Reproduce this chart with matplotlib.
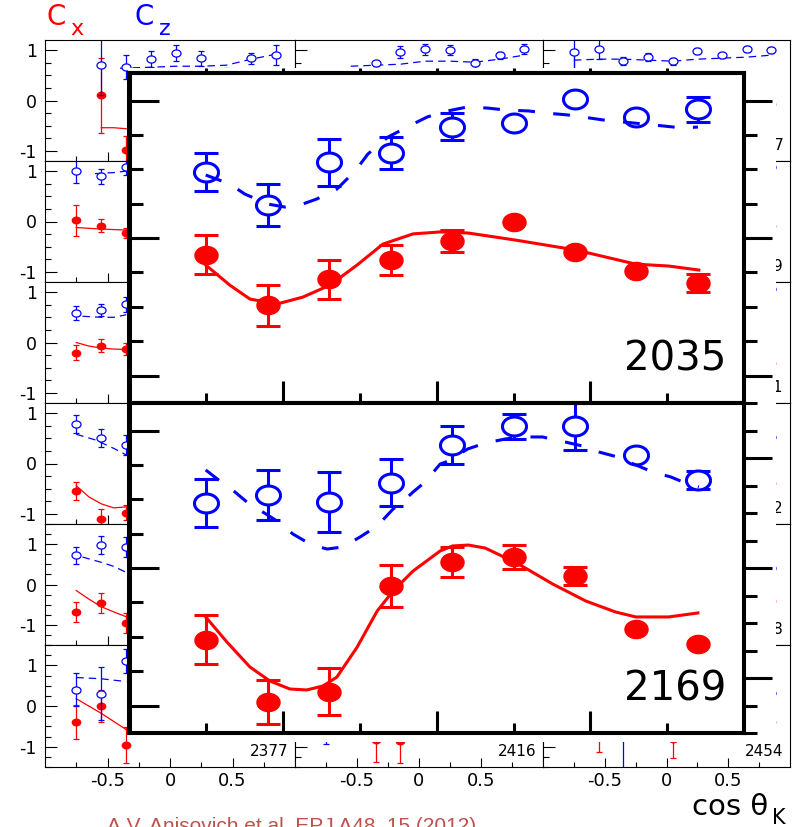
import numpy as np
import matplotlib.pyplot as plt
from matplotlib.path import Path
from matplotlib.patches import Rectangle
from matplotlib.ticker import FixedLocator, MultipleLocator

plt.rcParams['axes.unicode_minus'] = False

# cos(theta_K) bins of the data points
cos_pts = [-0.75, -0.55, -0.35, -0.15, 0.05, 0.25, 0.45, 0.65, 0.85]

# enlarged panel W = 2035
cx_2035 = [-0.12, -0.49, -0.30, -0.16, -0.02, 0.12, -0.10, -0.24, -0.33]
cx_2035_err = [0.145, 0.15, 0.14, 0.11, 0.08, 0, 0, 0, 0.065]
cz_2035 = [0.48, 0.24, 0.55, 0.62, 0.81, 0.84, 1.01, 0.88, 0.935]
cz_2035_err = [0.135, 0.15, 0.17, 0.115, 0.10, 0, 0, 0, 0.09]

fitx_cx_2035 = [-0.752, -0.674, -0.608, -0.52, -0.436, -0.347, -0.259, -0.175, -0.077, 0.011,
                0.103, 0.256, 0.452, 0.648, 0.755, 0.853]
fit_cx_2035 = [-0.196, -0.342, -0.444, -0.48, -0.43, -0.342, -0.196, -0.044, 0.03, 0.044,
               0.036, -0.015, -0.087, -0.19, -0.204, -0.233]
fitx_cz_2035 = [-0.752, -0.674, -0.625, -0.55, -0.494, -0.445, -0.39, -0.325, -0.292, -0.256,
                -0.224, -0.158, -0.077, -0.031, 0.018, 0.1, 0.165, 0.223, 0.299, 0.354,
                0.426, 0.475, 0.543, 0.605, 0.674, 0.736, 0.801, 0.85]
fit_cz_2035 = [0.458, 0.393, 0.32, 0.247, 0.225, 0.24, 0.284, 0.356, 0.429, 0.516,
               0.611, 0.735, 0.829, 0.88, 0.916, 0.953, 0.945, 0.931, 0.924, 0.909,
               0.895, 0.88, 0.858, 0.844, 0.829, 0.815, 0.8, 0.807]

# enlarged panel W = 2169
cx_2169 = [-0.52, -0.975, -0.90, -0.13, 0.045, 0.08, -0.06, -0.44, -0.55]
cx_2169_err = [0.18, 0.16, 0.17, 0.15, 0.11, 0.085, 0.065, 0, 0]
cz_2169 = [0.47, 0.53, 0.48, 0.62, 0.895, 1.03, 1.03, 0.82, 0.64]
cz_2169_err = [0.175, 0.18, 0.215, 0.17, 0.14, 0.09, 0.17, 0, 0.065]

fitx_cx_2169 = [-0.752, -0.683, -0.608, -0.543, -0.478, -0.423, -0.37, -0.325, -0.259, -0.194,
                -0.142, -0.077, 0.011, 0.051, 0.103, 0.158, 0.266, 0.377, 0.485, 0.582,
                0.648, 0.755, 0.85]
fit_cx_2169 = [-0.356, -0.538, -0.72, -0.822, -0.88, -0.887, -0.858, -0.793, -0.575, -0.313,
               -0.167, -0.022, 0.124, 0.16, 0.167, 0.145, 0.029, -0.116, -0.24, -0.32,
               -0.356, -0.356, -0.327]
fitx_cz_2169 = [-0.752, -0.706, -0.657, -0.618, -0.566, -0.52, -0.468, -0.429, -0.393, -0.357,
                -0.305, -0.25, -0.194, -0.142, -0.119, -0.077, -0.038, 0.011, 0.038, 0.1,
                0.158, 0.223, 0.272, 0.344, 0.403, 0.475, 0.527, 0.589, 0.641, 0.703,
                0.762, 0.817, 0.853]
fit_cz_2169 = [0.713, 0.633, 0.553, 0.48, 0.407, 0.342, 0.247, 0.196, 0.16, 0.138,
               0.153, 0.225, 0.305, 0.429, 0.465, 0.553, 0.625, 0.756, 0.778, 0.865,
               0.909, 0.938, 0.953, 0.953, 0.924, 0.887, 0.844, 0.807, 0.756, 0.698,
               0.662, 0.611, 0.589]

# background grid of small panels (only the parts that peek out are read)
bg_labels = [["1897", "1932", "1967"],
             ["2000", "2035", "2069"],
             ["2102", "2137", "2171"],
             ["2169", "2202", "2232"],
             ["2266", "2302", "2338"],
             ["2377", "2416", "2454"]]
bg_ylim = [1.2, 1.2, 1.2, 1.2, 1.5, 1.5]

# (row, col, cos, value, error)
bg_cx = [(0, 0, -0.55, 0.1, 0.74), (0, 0, -0.35, -0.98, 0.28), (0, 2, -0.75, 0.3, 0.68),
         (0, 2, 0.85, -0.06, 0.1),
         (1, 0, -0.75, 0.02, 0.3), (1, 0, -0.55, -0.08, 0.12), (1, 0, -0.35, -0.22, 0.1),
         (1, 2, 0.85, -0.08, 0.1),
         (2, 0, -0.75, -0.2, 0.15), (2, 0, -0.55, -0.06, 0.13), (2, 0, -0.35, -0.12, 0.12),
         (2, 2, 0.85, -0.4, 0.1),
         (3, 0, -0.75, -0.54, 0.18), (3, 0, -0.55, -1.1, 0.2), (3, 0, -0.35, -0.98, 0.15),
         (3, 2, 0.85, -0.38, 0.1),
         (4, 0, -0.75, -0.68, 0.24), (4, 0, -0.55, -0.45, 0.25), (4, 0, -0.35, -0.95, 0.25),
         (4, 2, 0.85, -0.42, 0.1),
         (5, 0, -0.75, -0.4, 0.42), (5, 0, -0.55, 0.0, 0.4), (5, 0, -0.35, -0.95, 0.44),
         (5, 1, -0.35, -0.84, 0.53), (5, 1, -0.15, -0.85, 0.55),
         (5, 2, -0.55, -0.7, 0.42), (5, 2, 0.05, -0.8, 0.47), (5, 2, 0.85, -0.4, 0.1)]
bg_cz = [(0, 0, -0.55, 0.7, 0.6), (0, 0, -0.35, 0.66, 0.24), (0, 0, -0.15, 0.82, 0.16),
         (0, 0, 0.05, 0.94, 0.16), (0, 0, 0.25, 0.84, 0.15), (0, 0, 0.45, 0.55, 0.1),
         (0, 0, 0.65, 0.84, 0.11), (0, 0, 0.85, 0.9, 0.2),
         (0, 1, -0.35, 0.74, 0.05), (0, 1, -0.15, 0.96, 0.12), (0, 1, 0.05, 1.02, 0.11),
         (0, 1, 0.25, 1.0, 0.1), (0, 1, 0.45, 0.74, 0.09), (0, 1, 0.65, 0.9, 0.07),
         (0, 1, 0.85, 1.02, 0.1),
         (0, 2, -0.75, 0.96, 0.6), (0, 2, -0.55, 1.02, 0.2), (0, 2, -0.35, 0.78, 0.08),
         (0, 2, -0.15, 0.86, 0.08), (0, 2, 0.05, 0.78, 0.07), (0, 2, 0.25, 0.98, 0.06),
         (0, 2, 0.45, 0.9, 0.05), (0, 2, 0.65, 1.02, 0.06), (0, 2, 0.85, 1.0, 0.06),
         (1, 0, -0.75, 1.0, 0.24), (1, 0, -0.55, 0.9, 0.15), (1, 0, -0.35, 1.08, 0.15),
         (1, 2, 0.85, 1.08, 0.1),
         (2, 0, -0.75, 0.58, 0.14), (2, 0, -0.55, 0.64, 0.12), (2, 0, -0.35, 0.76, 0.15),
         (2, 2, 0.85, 1.06, 0.1),
         (3, 0, -0.75, 0.78, 0.18), (3, 0, -0.55, 0.5, 0.18), (3, 0, -0.35, 0.36, 0.2),
         (3, 2, 0.85, 0.52, 0.1),
         (4, 0, -0.75, 0.72, 0.22), (4, 0, -0.55, 0.98, 0.22), (4, 0, -0.35, 0.92, 0.25),
         (4, 2, 0.85, 0.42, 0.1),
         (5, 0, -0.75, 0.4, 0.4), (5, 0, -0.55, 0.3, 0.65), (5, 0, -0.35, 1.1, 0.3),
         (5, 1, -0.75, -0.3, 0.63),
         (5, 2, -0.35, -0.5, 1.1), (5, 2, 0.85, 0.33, 0.1)]

# fit curves of the small panels: (row, col) -> (cos, value)
bg_fit_cx = {(0, 0): ([-0.55, -0.45, -0.35], [-0.54, -0.54, -0.56]),
             (1, 0): ([-0.75, -0.55, -0.35], [-0.12, -0.15, -0.17]),
             (2, 0): ([-0.75, -0.65, -0.55, -0.45, -0.35], [0.0, -0.07, -0.11, -0.13, -0.14]),
             (3, 0): ([-0.75, -0.65, -0.55, -0.45, -0.35], [-0.44, -0.66, -0.8, -0.88, -0.86]),
             (4, 0): ([-0.75, -0.65, -0.55, -0.45, -0.35], [-0.15, -0.36, -0.55, -0.68, -0.8]),
             (5, 0): ([-0.75, -0.55, -0.35], [0.18, -0.18, -0.58])}
bg_fit_cz = {(0, 0): ([-0.4, -0.15, 0.05, 0.25, 0.45, 0.65, 0.85],
                      [0.64, 0.66, 0.68, 0.68, 0.7, 0.82, 0.92]),
             (0, 1): ([-0.55, -0.35, -0.15, 0.05, 0.25, 0.45, 0.65, 0.85],
                      [0.68, 0.7, 0.72, 0.78, 0.78, 0.76, 0.82, 0.9]),
             (0, 2): ([-0.75, -0.55, -0.35, -0.15, 0.05, 0.25, 0.45, 0.65, 0.85],
                      [0.8, 0.82, 0.82, 0.8, 0.78, 0.82, 0.84, 0.86, 0.9]),
             (1, 0): ([-0.6, -0.45, -0.35], [0.95, 0.97, 1.0]),
             (2, 0): ([-0.7, -0.55, -0.45, -0.35], [0.52, 0.5, 0.5, 0.55]),
             (3, 0): ([-0.75, -0.6, -0.45, -0.35], [0.58, 0.47, 0.3, 0.17]),
             (4, 0): ([-0.7, -0.55, -0.45, -0.35], [0.68, 0.55, 0.45, 0.3]),
             (5, 0): ([-0.75, -0.55, -0.35], [0.7, 0.67, 0.6])}

W, H = 797, 827
fig = plt.figure(figsize=(W / 100, H / 100), dpi=100)


def add_px_axes(x0, y0, x1, y1):
    return fig.add_axes([x0 / W, 1 - y1 / H, (x1 - x0) / W, (y1 - y0) / H])


# the original picture is stretched sideways, so the circles are ovals
t = np.linspace(0, 2 * np.pi, 73)
oval = Path(np.column_stack([1.27 * np.cos(t), np.sin(t)]))

# ---- background grid ----
col_edges = [45, 295, 543, 790]
row_edges = [40, 161, 282, 403, 524, 645, 767]
for r in range(6):
    for c in range(3):
        ax = add_px_axes(col_edges[c], row_edges[r], col_edges[c + 1], row_edges[r + 1])
        lim = bg_ylim[r]
        ax.set_xlim(-1, 1)
        ax.set_ylim(-lim, lim)
        ax.set_xticks([-0.5, 0, 0.5], ['-0.5', '0', '0.5'])
        ax.xaxis.set_minor_locator(FixedLocator([-0.75, -0.25, 0.25, 0.75]))
        ax.set_yticks([-1, 0, 1], ['-1', '0', '1'])
        ax.yaxis.set_minor_locator(MultipleLocator(0.25))
        ax.tick_params(axis='x', which='major', direction='in', length=6.5, width=0.8,
                       labelsize=13, pad=3.5, labelbottom=(r == 5))
        ax.tick_params(axis='x', which='minor', direction='in', length=3.6, width=0.8)
        ax.tick_params(axis='y', which='major', direction='in', length=8.6, width=0.8,
                       labelsize=12.5, pad=6, labelleft=(c == 0))
        ax.tick_params(axis='y', which='minor', direction='in', length=4.3, width=0.8)
        for s in ax.spines.values():
            s.set_linewidth(0.8)

        if (r, c) in bg_fit_cx:
            fx, fy = bg_fit_cx[(r, c)]
            ax.plot(fx, fy, color='red', lw=0.9)
        if (r, c) in bg_fit_cz:
            fx, fy = bg_fit_cz[(r, c)]
            ax.plot(fx, fy, color='blue', lw=0.9, dashes=(6, 4))

        for rr, cc, x, y, e in bg_cx:
            if (rr, cc) == (r, c):
                ax.errorbar([x], [y], yerr=[e], fmt='none', ecolor='red', elinewidth=0.9,
                            capsize=2.5, capthick=0.9)
                ax.plot([x], [y], ls='none', marker=oval, ms=6, color='red')
        for rr, cc, x, y, e in bg_cz:
            if (rr, cc) == (r, c):
                ax.errorbar([x], [y], yerr=[e], fmt='none', ecolor='blue', elinewidth=0.9,
                            capsize=2.5, capthick=0.9)
                ax.plot([x], [y], ls='none', marker=oval, ms=6.5, mfc='white', mec='blue',
                        mew=0.9)

        ax.text(0.975, 0.09, bg_labels[r][c], transform=ax.transAxes, ha='right',
                va='baseline', fontsize=11)

# white cover under the enlarged panels
fig.add_artist(Rectangle((128 / W, 1 - 742 / H), (776 - 128) / W, (742 - 68) / H,
                         transform=fig.transFigure, facecolor='white', edgecolor='none',
                         zorder=5))


def big_panel(y0, y1, cx, cx_err, cz, cz_err, fxx, fcx, fxz, fcz, label, right_lim, top_ticks):
    ax = add_px_axes(129.5, y0, 744, y1)
    ax.set_zorder(6)
    ax.set_xlim(-1, 1)
    ax.set_ylim(-1.2, 1.2)
    ax.set_xticks([-0.5, 0, 0.5])
    ax.xaxis.set_minor_locator(FixedLocator([-0.75, -0.25, 0.25, 0.75]))
    ax.set_yticks([-1, 0, 1])
    ax.yaxis.set_minor_locator(MultipleLocator(0.25))
    ax.tick_params(axis='x', which='major', direction='in', length=16, width=2.2,
                   labelbottom=False)
    ax.tick_params(axis='x', which='minor', direction='in', length=7.2, width=2.2)
    ax.tick_params(axis='y', which='major', direction='in', length=21, width=2.2,
                   labelleft=False)
    ax.tick_params(axis='y', which='minor', direction='in', length=9.4, width=2.2)
    for s in ax.spines.values():
        s.set_linewidth(2.9)

    i_cx = [i for i, e in enumerate(cx_err) if e > 0]
    ax.errorbar([cos_pts[i] for i in i_cx], [cx[i] for i in i_cx],
                yerr=[cx_err[i] for i in i_cx], fmt='none', ecolor='red',
                elinewidth=2.2, capsize=8.3, capthick=2.2, zorder=3)
    ax.plot(cos_pts, cx, ls='none', marker=oval, ms=16.6, color='red', zorder=4)
    ax.plot(fxx, fcx, color='red', lw=2.2, zorder=5)

    i_cz = [i for i, e in enumerate(cz_err) if e > 0]
    ax.errorbar([cos_pts[i] for i in i_cz], [cz[i] for i in i_cz],
                yerr=[cz_err[i] for i in i_cz], fmt='none', ecolor='blue',
                elinewidth=2.2, capsize=8.3, capthick=2.2, zorder=3)
    ax.plot(cos_pts, cz, ls='none', marker=oval, ms=17.3, mfc='white', mec='blue',
            mew=2.2, zorder=4)
    ax.plot(fxz, fcz, color='blue', lw=2.2, dashes=(5.5, 6), zorder=5)

    ax.text(0.971, 0.097, label, transform=ax.transAxes, ha='right', va='baseline',
            fontsize=29)

    rt = ax.twinx()
    rt.set_zorder(7)
    rt.set_ylim(-right_lim, right_lim)
    rt.set_yticks([-1, 0, 1])
    rt.yaxis.set_minor_locator(MultipleLocator(0.25))
    rt.tick_params(axis='y', which='major', direction='out', length=20, width=2.2,
                   labelright=False)
    rt.tick_params(axis='y', which='minor', direction='out', length=9.4, width=2.2)
    for s in rt.spines.values():
        s.set_linewidth(2.9)

    if top_ticks:
        sec = ax.secondary_xaxis('top')
        sec.set_xticks([-0.75, -0.5, -0.25, 0, 0.25, 0.5, 0.75])
        sec.tick_params(direction='out', length=3.6, width=2.2, labeltop=False)
        sec.spines['top'].set_linewidth(2.9)
    return ax


big_panel(73, 403, cx_2035, cx_2035_err, cz_2035, cz_2035_err,
          fitx_cx_2035, fit_cx_2035, fitx_cz_2035, fit_cz_2035, '2035', 1.2, True)
big_panel(403, 733, cx_2169, cx_2169_err, cz_2169, cz_2169_err,
          fitx_cx_2169, fit_cx_2169, fitx_cz_2169, fit_cz_2169, '2169', 1.5, False)

# titles and axis label
fig.text(46 / W, 1 - 25 / H, 'C', color='red', fontsize=20, va='baseline')
fig.text(70 / W, 1 - 35 / H, 'x', color='red', fontsize=16, va='baseline')
fig.text(134 / W, 1 - 25 / H, 'C', color='blue', fontsize=20, va='baseline')
fig.text(159 / W, 1 - 35 / H, 'z', color='blue', fontsize=16, va='baseline')
fig.text(768 / W, 1 - 815 / H, 'cos θ', fontsize=21, ha='right', va='baseline')
fig.text(772 / W, 1 - 824 / H, 'K', fontsize=15, va='baseline')
fig.text(107 / W, 1 - 832 / H, 'A.V. Anisovich et al. EPJ A48, 15 (2012)',
         fontsize=15, family='Liberation Sans', color='#c0504d', va='baseline')

fig.savefig('out.png', dpi=100)
